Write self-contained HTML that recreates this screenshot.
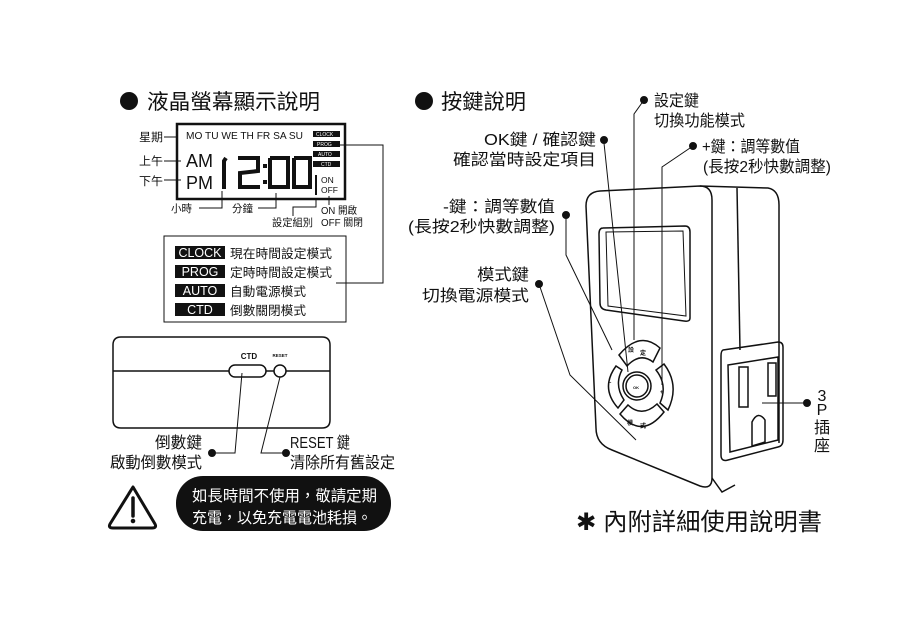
<!DOCTYPE html>
<html><head><meta charset="utf-8"><style>
html,body{margin:0;padding:0;background:#fff;}
svg{display:block;}
text{font-family:"Liberation Sans","Noto Sans CJK TC",sans-serif;fill:#111;}
</style></head><body>
<svg width="900" height="627" viewBox="0 0 900 627" xmlns="http://www.w3.org/2000/svg">
<g stroke="#111" fill="none" stroke-width="1">
<!-- LEFT TITLE -->
<circle cx="129" cy="101" r="9" fill="#111" stroke="none"/>
<text x="147" y="109" font-size="21" stroke="none" textLength="173" lengthAdjust="spacingAndGlyphs">液晶螢幕顯示說明</text>

<!-- LCD -->
<rect x="177" y="124" width="168" height="75" stroke-width="2.5"/>
<text x="186" y="139" font-size="10.5" stroke="none" textLength="117" lengthAdjust="spacingAndGlyphs">MO TU WE TH FR SA SU</text>
<g stroke="none" fill="#111">
<rect x="313" y="131" width="27" height="6"/>
<rect x="313" y="141" width="27" height="6"/>
<rect x="313" y="151" width="27" height="6"/>
<rect x="313" y="161" width="27" height="6"/>
</g>
<g font-size="5" stroke="none">
<text x="316" y="136" style="fill:#fff">CLOCK</text>
<text x="317" y="146" style="fill:#fff">PROG</text>
<text x="318" y="156" style="fill:#fff">AUTO</text>
<text x="321" y="166" style="fill:#fff">CTD</text>
</g>
<text x="186" y="167" font-size="18" stroke="none">AM</text>
<text x="186" y="189" font-size="18" stroke="none">PM</text>
<g stroke-width="4" stroke-linecap="butt" stroke-linejoin="miter">
<polyline points="226,158 224,161 224,189"/>
<polyline points="238,158 258,158 258,171 240,173 240,187 260,187"/>
<polyline points="270,158 288,158 288,187 270,187 270,158"/>
<polyline points="294,158 310,158 310,187 294,187 294,158"/>
</g>
<rect x="263" y="164" width="4" height="4" fill="#111" stroke="none"/>
<rect x="263" y="180" width="4" height="4" fill="#111" stroke="none"/>
<line x1="316" y1="175" x2="316" y2="195" stroke-width="2"/>
<text x="321" y="183" font-size="8.5" stroke="none">ON</text>
<text x="321" y="193" font-size="8.5" stroke="none">OFF</text>

<text x="139" y="141" font-size="11.5" stroke="none" textLength="24" lengthAdjust="spacingAndGlyphs">星期</text>
<line x1="164" y1="137" x2="177" y2="137"/>
<text x="139" y="165" font-size="11.5" stroke="none" textLength="24" lengthAdjust="spacingAndGlyphs">上午</text>
<line x1="164" y1="161" x2="181" y2="161"/>
<text x="139" y="185" font-size="11.5" stroke="none" textLength="24" lengthAdjust="spacingAndGlyphs">下午</text>
<line x1="164" y1="180" x2="181" y2="180"/>
<text x="171" y="212" font-size="10.5" stroke="none" textLength="21" lengthAdjust="spacingAndGlyphs">小時</text>
<polyline points="199,208 222,208 222,191"/>
<text x="232" y="212" font-size="10.5" stroke="none" textLength="21" lengthAdjust="spacingAndGlyphs">分鐘</text>
<polyline points="258,208 276,208 276,193"/>
<text x="272" y="226" font-size="10.5" stroke="none" textLength="41" lengthAdjust="spacingAndGlyphs">設定組別</text>
<polyline points="293,216 293,207 316,207 316,199"/>
<line x1="329" y1="196" x2="329" y2="205"/>
<text x="321" y="214" font-size="10" stroke="none" textLength="36" lengthAdjust="spacingAndGlyphs">ON 開啟</text>
<text x="321" y="226" font-size="10" stroke="none" textLength="42" lengthAdjust="spacingAndGlyphs">OFF 關閉</text>
<polyline points="340,145 383,145 383,283 336,283"/>

<rect x="164" y="236" width="182" height="86"/>
<g stroke="none" fill="#111">
<rect x="175" y="246" width="50" height="13"/>
<rect x="175" y="265" width="50" height="13"/>
<rect x="175" y="284" width="50" height="13"/>
<rect x="175" y="303" width="50" height="13"/>
</g>
<g font-size="12.5" stroke="none">
<text x="200" y="257" text-anchor="middle" style="fill:#fff">CLOCK</text>
<text x="200" y="276" text-anchor="middle" style="fill:#fff">PROG</text>
<text x="200" y="295" text-anchor="middle" style="fill:#fff">AUTO</text>
<text x="200" y="314" text-anchor="middle" style="fill:#fff">CTD</text>
<text x="230" y="258" textLength="102" lengthAdjust="spacingAndGlyphs">現在時間設定模式</text>
<text x="230" y="277" textLength="102" lengthAdjust="spacingAndGlyphs">定時時間設定模式</text>
<text x="230" y="296" textLength="76" lengthAdjust="spacingAndGlyphs">自動電源模式</text>
<text x="230" y="315" textLength="76" lengthAdjust="spacingAndGlyphs">倒數關閉模式</text>
</g>

<!-- bottom device -->
<path d="M121,337 L322,337 Q330,337 330,345 L330,420 Q330,428 322,428 L121,428 Q113,428 113,420 L113,345 Q113,337 121,337 Z" stroke-width="1.5"/>
<line x1="113" y1="371" x2="229" y2="371" stroke-width="1.5"/>
<line x1="266" y1="371" x2="274" y2="371" stroke-width="1.5"/>
<line x1="286" y1="371" x2="330" y2="371" stroke-width="1.5"/>
<rect x="229" y="365" width="37" height="12" rx="6" stroke-width="1.5"/>
<circle cx="280" cy="371" r="6" stroke-width="1.5"/>
<text x="249" y="359" font-size="8" font-weight="bold" text-anchor="middle" stroke="none">CTD</text>
<text x="280" y="357" font-size="4.5" font-weight="bold" text-anchor="middle" stroke="none">RESET</text>
<polyline points="242,373 235,453 213,453"/>
<circle cx="212" cy="453" r="3.5" fill="#111"/>
<polyline points="280,377 261,453 285,453"/>
<circle cx="286" cy="453" r="3.5" fill="#111"/>
<g font-size="16" stroke="none">
<text x="155" y="448" textLength="47" lengthAdjust="spacingAndGlyphs">倒數鍵</text>
<text x="110" y="468" textLength="92" lengthAdjust="spacingAndGlyphs">啟動倒數模式</text>
<text x="290" y="448" textLength="60" lengthAdjust="spacingAndGlyphs">RESET 鍵</text>
<text x="290" y="468" textLength="105" lengthAdjust="spacingAndGlyphs">清除所有舊設定</text>
</g>
<path d="M133,487 L155,524 Q157,528 152,528 L113,528 Q108,528 110,524 Z" stroke-width="3" stroke-linejoin="round"/>
<line x1="133" y1="498" x2="133" y2="516" stroke-width="3.5" stroke-linecap="round"/>
<circle cx="133" cy="521" r="1.8" fill="#111"/>
<rect x="176" y="476" width="215" height="55" rx="27" fill="#111" stroke="none"/>
<g font-size="15.5" stroke="none">
<text x="192" y="501" style="fill:#fff" textLength="185" lengthAdjust="spacingAndGlyphs">如長時間不使用，敬請定期</text>
<text x="192" y="523" style="fill:#fff" textLength="180" lengthAdjust="spacingAndGlyphs">充電，以免充電電池耗損。</text>
</g>

<!-- RIGHT -->
<circle cx="424" cy="101" r="9" fill="#111" stroke="none"/>
<text x="441" y="109" font-size="21" stroke="none" textLength="85" lengthAdjust="spacingAndGlyphs">按鍵說明</text>

<!-- device -->
<g stroke-width="1.5">
<path d="M600,191 L700,186 Q712,186 712,200 L712,478 Q712,490 700,486 L612,450 Q596,444 596,428 L586,206 Q586,192 600,191 Z"/>
<path d="M700,186 L768,188 Q779,190 779,205 L779,443"/>
<line x1="737" y1="188" x2="740" y2="350"/>
<path d="M712,478 L722,492 L735,485"/>
<path d="M603,228 L685,226 Q690,226 690,232 L690,318 Q690,322 684,321 L606,310 Q600,309 600,303 L599,234 Q599,228 603,228 Z"/>
<path d="M606,232 L683,231 L686,316 L608,306 Z" stroke-width="1"/>
<path d="M723,350 L778,342 Q783,342 783,347 L783,440 Q783,446 778,447 L728,460 Q721,462 721,455 L721,356 Q721,351 723,350 Z"/>
<path d="M728,365 L778,357 L778,440 L730,452 Z"/>
<rect x="739" y="367" width="9" height="40"/>
<rect x="768" y="363" width="8" height="33"/>
<path d="M752,446 L752,422 Q758,410 765,420 L765,442 Z"/>
</g>
<!-- buttons -->
<g stroke-width="1.5">
<path d="M619,355 Q640,330 660,348 L653,362 Q640,352 627,366 Z"/>
<path d="M616,366 L622,370 Q614,385 624,400 L618,408 Q600,388 616,366 Z"/>
<path d="M664,364 Q680,385 668,410 L660,403 Q668,385 656,370 Z"/>
<path d="M620,414 L628,405 Q642,418 657,404 L664,412 Q642,440 620,414 Z"/>
<circle cx="637" cy="386" r="14"/>
<circle cx="637" cy="386" r="11"/>
</g>
<g font-size="6" stroke="none" font-weight="bold">
<text x="628" y="352">設</text><text x="640" y="355">定</text>
<text x="633" y="389" font-size="4">OK</text>
<text x="627" y="425">模</text><text x="640" y="428">式</text>
<text x="608" y="384">–</text><text x="660" y="394">+</text>
</g>
<!-- connectors -->
<circle cx="644" cy="100" r="3.5" fill="#111"/>
<polyline points="644,100 634,114 634,340"/>
<circle cx="604" cy="140" r="3.5" fill="#111"/>
<line x1="604" y1="143" x2="628" y2="372"/>
<circle cx="693" cy="146" r="3.5" fill="#111"/>
<polyline points="693,146 662,167 662,385"/>
<circle cx="566" cy="215" r="3.5" fill="#111"/>
<polyline points="566,215 566,255 612,350"/>
<circle cx="539" cy="284" r="3.5" fill="#111"/>
<polyline points="539,284 570,375 636,440"/>
<circle cx="807" cy="403" r="3.5" fill="#111"/>
<line x1="762" y1="403" x2="807" y2="403"/>
<g font-size="16" stroke="none">
<text x="654" y="106" textLength="45" lengthAdjust="spacingAndGlyphs">設定鍵</text>
<text x="654" y="126" textLength="91" lengthAdjust="spacingAndGlyphs">切換功能模式</text>
<text x="484" y="145" textLength="112" lengthAdjust="spacingAndGlyphs">OK鍵 / 確認鍵</text>
<text x="453" y="165" textLength="143" lengthAdjust="spacingAndGlyphs">確認當時設定項目</text>
<text x="702" y="152" textLength="98" lengthAdjust="spacingAndGlyphs">+鍵：調等數值</text>
<text x="703" y="172" textLength="128" lengthAdjust="spacingAndGlyphs">(長按2秒快數調整)</text>
<text x="443" y="212" textLength="112" lengthAdjust="spacingAndGlyphs">-鍵：調等數值</text>
<text x="408" y="232" textLength="147" lengthAdjust="spacingAndGlyphs">(長按2秒快數調整)</text>
<text x="477" y="280" textLength="52" lengthAdjust="spacingAndGlyphs">模式鍵</text>
<text x="422" y="301" textLength="107" lengthAdjust="spacingAndGlyphs">切換電源模式</text>
<text x="822" y="401" text-anchor="middle">3</text>
<text x="822" y="415" text-anchor="middle">P</text>
<text x="822" y="433" text-anchor="middle">插</text>
<text x="822" y="451" text-anchor="middle">座</text>
</g>
<text x="576" y="530" font-size="24" stroke="none" textLength="246" lengthAdjust="spacingAndGlyphs">✱ 內附詳細使用說明書</text>
</g>
</svg>
</body></html>
